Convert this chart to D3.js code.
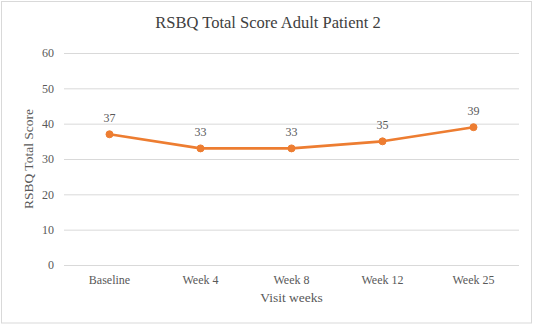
<!DOCTYPE html>
<html>
<head>
<meta charset="utf-8">
<script src="https://cdn.jsdelivr.net/npm/d3@7"></script>
<style>
  html, body { margin: 0; padding: 0; background: #fff; }
  svg { display: block; }
  svg text { font-family: "Liberation Serif", Tinos, "Times New Roman", Times, "Nimbus Roman", "DejaVu Serif", serif !important; }
</style>
</head>
<body>
<svg id="chart" width="536" height="327"></svg>
<script>
const categories = ["Baseline", "Week 4", "Week 8", "Week 12", "Week 25"];
const scores = [37, 33, 33, 35, 39];
const yTicks = [0, 10, 20, 30, 40, 50, 60];
const chartTitle = "RSBQ Total Score Adult Patient 2";
const xTitle = "Visit weeks";
const yTitle = "RSBQ Total Score";

const svg = d3.select("#chart");
const W = 536, H = 327;
const margin = { left: 64, right: 17, top: 53, bottom: 62 };
const plotW = W - margin.left - margin.right;
const plotH = H - margin.top - margin.bottom;

svg.append("rect")
  .attr("x", 1.5).attr("y", 1.5)
  .attr("width", 530).attr("height", 321.5)
  .attr("fill", "#fff").attr("stroke", "#d9d9d9").attr("stroke-width", 1);

const x = d3.scaleBand().domain(categories).range([margin.left, margin.left + plotW]);
const y = d3.scaleLinear().domain([0, 60]).range([margin.top + plotH, margin.top]);

// gridlines + y tick labels
const yAxis = d3.axisLeft(y).tickValues(yTicks).tickSize(-plotW).tickPadding(10).tickFormat(d3.format("d"));
const gy = svg.append("g").attr("transform", `translate(${margin.left},0)`).call(yAxis);
gy.attr("font-family", null);
gy.select(".domain").remove();
gy.selectAll(".tick line").attr("stroke", "#d9d9d9").attr("stroke-width", 1);
gy.selectAll(".tick text").attr("fill", "#595959").attr("font-size", 12);

// x axis labels
const xAxis = d3.axisBottom(x).tickSize(0).tickPadding(10);
const gx = svg.append("g").attr("transform", `translate(0,${margin.top + plotH})`).call(xAxis);
gx.attr("font-family", null);
gx.select(".domain").remove();
gx.selectAll(".tick text").attr("fill", "#595959").attr("font-size", 12);

// line
const pts = categories.map((c, i) => ({ c, v: scores[i] }));
const cx = d => x(d.c) + x.bandwidth() / 2;
const line = d3.line().x(cx).y(d => y(d.v));
svg.append("path").datum(pts)
  .attr("d", line).attr("fill", "none")
  .attr("stroke", "#ED7D31").attr("stroke-width", 2.6)
  .attr("stroke-linejoin", "round").attr("stroke-linecap", "round");

svg.selectAll("circle.pt").data(pts).enter().append("circle")
  .attr("class", "pt")
  .attr("cx", cx)
  .attr("cy", d => y(d.v))
  .attr("r", 3.5)
  .attr("fill", "#ED7D31").attr("stroke", "#ED7D31").attr("stroke-width", 1);

svg.selectAll("text.lbl").data(pts).enter().append("text")
  .attr("class", "lbl")
  .attr("x", cx)
  .attr("y", d => y(d.v) - 12.5)
  .attr("text-anchor", "middle")
  .attr("fill", "#595959").attr("font-size", 12)
  .text(d => d.v);

// titles
svg.append("text")
  .attr("x", 268).attr("y", 27.5)
  .attr("text-anchor", "middle")
  .attr("fill", "#404040").attr("font-size", 16.5)
  .text(chartTitle);

svg.append("text")
  .attr("x", margin.left + plotW / 2).attr("y", 302)
  .attr("text-anchor", "middle")
  .attr("fill", "#595959").attr("font-size", 13.5)
  .text(xTitle);

svg.append("text")
  .attr("transform", `translate(33,${margin.top + plotH / 2}) rotate(-90)`)
  .attr("text-anchor", "middle")
  .attr("fill", "#595959").attr("font-size", 13.5)
  .text(yTitle);
</script>
</body>
</html>
